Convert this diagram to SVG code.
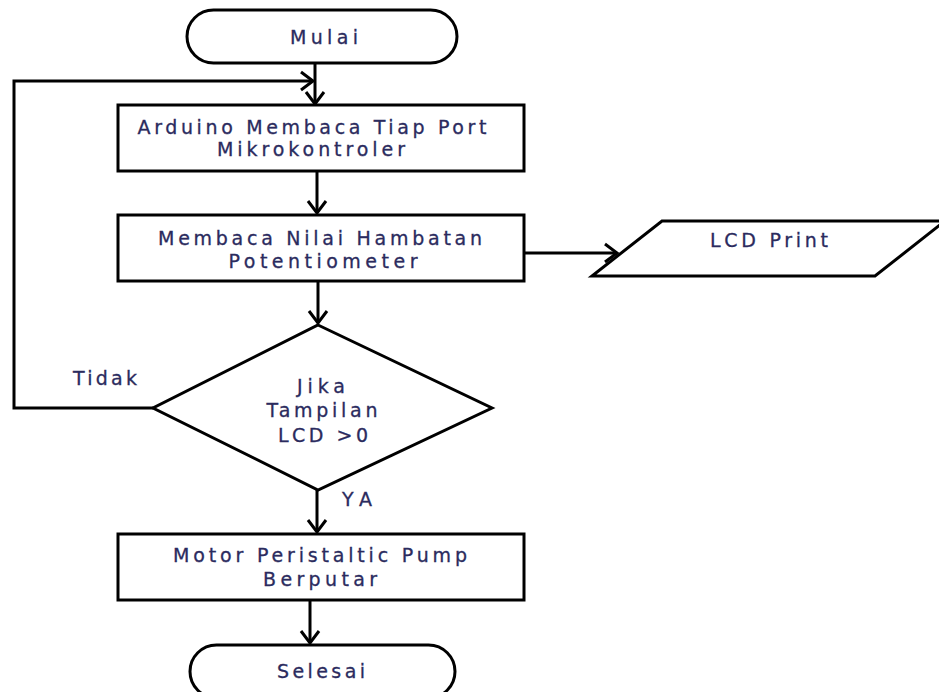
<svg xmlns="http://www.w3.org/2000/svg" width="939" height="692" viewBox="0 0 939 692">
<defs>
<marker id="arr" markerUnits="userSpaceOnUse" markerWidth="30" markerHeight="30" refX="14" refY="10" orient="auto" overflow="visible">
<path d="M2,1 L14,10 L2,19" fill="none" stroke="#000" stroke-width="3"/>
</marker>
</defs>
<style>
.s{fill:#fff;stroke:#000;stroke-width:3}
.c{fill:none;stroke:#000;stroke-width:3}
text{font-family:"DejaVu Sans","Liberation Sans",sans-serif;font-size:19px;fill:#2b2b5e;stroke:#2b2b5e;stroke-width:0.3;text-anchor:middle}
</style>
<rect width="939" height="692" fill="#fff"/>
<g id="connectors">
<path class="c" d="M315,63 V104" marker-end="url(#arr)"/>
<path class="c" d="M153,408 H14 V81 H313" marker-end="url(#arr)"/>
<path class="c" d="M317,171 V213" marker-end="url(#arr)"/>
<path class="c" d="M318,281 V323" marker-end="url(#arr)"/>
<path class="c" d="M524,253 H617" marker-end="url(#arr)"/>
<path class="c" d="M317,490 V532" marker-end="url(#arr)"/>
<path class="c" d="M310,600 V643" marker-end="url(#arr)"/>
</g>
<g id="mulai">
<rect class="s" x="187" y="10" width="270" height="53" rx="26.5"/>
<text x="324" y="44" textLength="68">Mulai</text>
</g>
<g id="arduino">
<rect class="s" x="118" y="105" width="406" height="66"/>
<text x="312" y="134" textLength="349">Arduino Membaca Tiap Port</text>
<text x="311" y="156" textLength="188">Mikrokontroler</text>
</g>
<g id="membaca">
<rect class="s" x="118" y="215" width="406" height="66"/>
<text x="320" y="245" textLength="324">Membaca Nilai Hambatan</text>
<text x="323" y="268" textLength="189">Potentiometer</text>
</g>
<g id="lcd">
<polygon class="s" points="662,221 945,221 875,276 592,276"/>
<text x="769" y="247" textLength="118">LCD Print</text>
</g>
<g id="decision">
<polygon class="s" points="318,325 492,408 318,490 153,408"/>
<text x="321" y="393" textLength="48">Jika</text>
<text x="322" y="417" textLength="111">Tampilan</text>
<text x="323" y="442" textLength="90">LCD &gt;0</text>
</g>
<text x="105" y="385" textLength="64">Tidak</text>
<text x="357" y="506" textLength="30">YA</text>
<g id="motor">
<rect class="s" x="118" y="534" width="406" height="66"/>
<text x="320" y="562" textLength="294">Motor Peristaltic Pump</text>
<text x="320" y="586" textLength="114">Berputar</text>
</g>
<g id="selesai">
<rect class="s" x="190" y="645" width="265" height="53" rx="26.5"/>
<text x="321" y="678" textLength="88">Selesai</text>
</g>
</svg>
